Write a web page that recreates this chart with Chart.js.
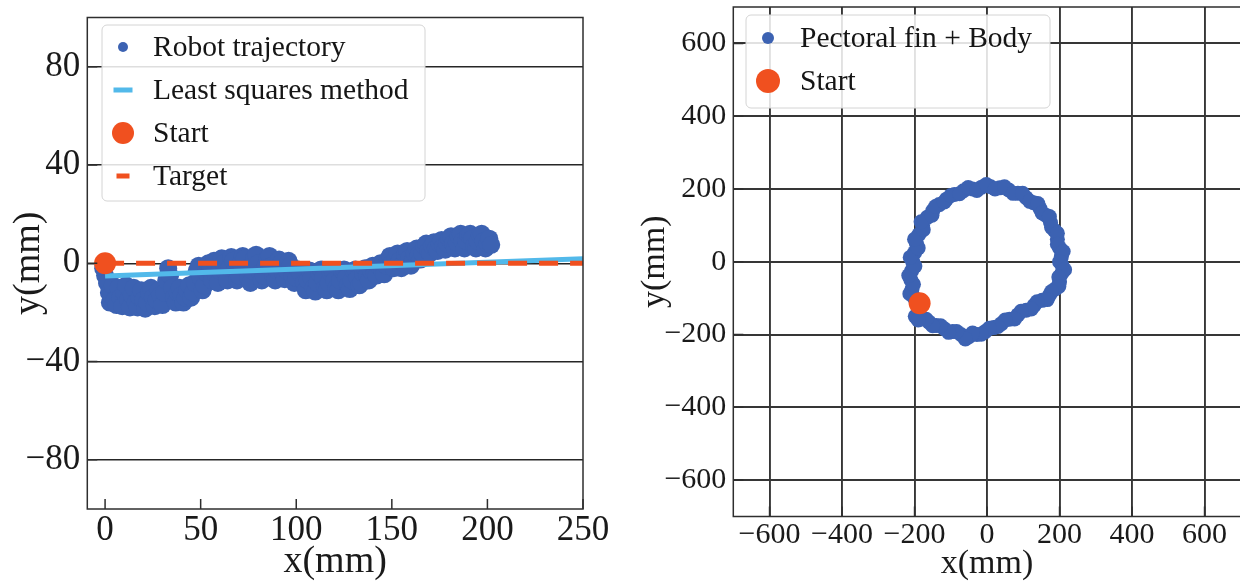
<!DOCTYPE html>
<html>
<head>
<meta charset="utf-8">
<script src="https://cdn.jsdelivr.net/npm/chart.js@4.4.0/dist/chart.umd.min.js"></script>
<style>
  html, body { margin: 0; padding: 0; background: #fff; overflow: hidden; }
  #leftBox { position: absolute; left: 0; top: 0; width: 620px; height: 581px; }
  #rightBox { position: absolute; left: 620px; top: 0; width: 624px; height: 581px; }
</style>
</head>
<body>
<div id="leftBox"><canvas id="trajChart" width="620" height="581"></canvas></div>
<div id="rightBox"><canvas id="loopChart" width="624" height="581"></canvas></div>
<script>
// ---- left panel data (mm) ----
const robotTrajectory = [
  [-1,-2],[0,-5],[1,-8],[2,-12],[2.5,-16],[3,-13],[4,-9],[5,-15],[6,-17],
  [7,-10],[8,-14],[9,-17.5],[10,-12],[11,-9],[12,-15],[13,-18],[14,-13],[15,-10],[16,-16],
  [17,-18],[18,-14],[19,-11],[20,-15],[21,-18.5],[22,-16],[23,-12],[24,-10],[25,-14],[26,-17.5],
  [27,-15],[28,-11],[29,-13],[30,-17],[31,-12],[32,-7],[33,-2],[34,-5],[35,-10],
  [36,-14],[37,-16],[38,-12],[39,-10],[40,-13],[41,-16],[42,-14],[43,-11],[44,-9],[45,-14],[46,-12],
  [47,-8],[48,-3],[49,-1],[50,-6],[51,-11],[52,-9],[53,-4],[54,0],[55,-3],[56,-7],
  [57,1],[58,-5],[59,-8],[60,-3],[61,2],[62,0],[63,-4],[64,-7],[65,-2],[66,2.5],[67,1],[68,-3],
  [69,-7],[70,-5],[71,0],[72,3],[73,2],[74,-2],[75,-6],[76,-8],[77,-3],[78,2],[79,3.5],[80,0],
  [81,-4],[82,-7],[83,-5],[84,-1],[85,2],[86,3],[87,-1],[88,-5],[89,-7],[90,-3],
  [91,1.5],[92,0],[93,-4],[94,-6.5],[95,-3],[96,1],[97,-1],[98,-5],[99,-8],[100,-6],
  [101,-2.5],[102,-4],[104,-8],[105,-11],[106,-7],[107,-3],[108,-6],[109,-10],[110,-11.5],[111,-8],
  [112,-4],[113,-2.5],[114,-6],[115,-10],[116,-11],[117,-8],[118,-4],[119,-3],[120,-7],[121,-10],
  [122,-11],[123,-7],[124,-3],[125,-2.5],[126,-6],[127,-9],[128,-10.5],[129,-7],[130,-3],[131,-2.5],
  [132,-6],[133,-9],[134,-8],[135,-4],[136,-2],[137,-5],[138,-7],[139,-3],[140,-1],
  [141,-4],[142,-5],[143,-1],[144,0],[145,-3],[146,-4.5],[147,-1],[148,1.5],[149,3],[150,0],
  [151,-2],[152,2],[153,4],[154,1],[155,-2],[156,0],[157,3.5],[158,5],[159,2],[160,-1],
  [161,1],[162,4],[163,6],[164,3.5],[165,1.5],[166,4],[167,7],[168,8],[169,5],[170,4],
  [171,7],[172,8.5],[173,6],[174,5],[175,8],[176,9.5],[177,7],[178,5.5],[179,8],[180,10],
  [181,11],[182,8],[183,6],[184,8.5],[185,11],[186,12],[187,9],[188,6],[189,9],[190,11.5],
  [191,12],[192,10],[193,7],[194,6],[195,9],[196,11.5],[197,12],[198,9],[199,6],[200,8],[201,10],[202,7.5]
];
const leastSquaresX = [0, 250];
const leastSquaresY = [-5.2, 1.8];
const targetX = [0, 250];
const targetY = [0, 0];
const startLeft = [0, 0];
const leftXTicks = [0, 50, 100, 150, 200, 250];
const leftYTicks = [-80, -40, 0, 40, 80];
const leftLabels = ['Robot trajectory', 'Least squares method', 'Start', 'Target'];

// ---- right panel data (mm) ----
const finBodyLoop = [
  [-200,-100],[-207,-75],[-210,-50],[-208,-25],[-205,0],[-200,25],[-195,50],[-188,75],[-178,100],
  [-165,122],[-150,140],[-132,157],[-112,172],[-90,185],[-65,195],[-40,200],[-15,205],[10,206],
  [35,203],[60,197],[85,188],[108,176],[128,162],[146,146],[162,128],[175,108],[186,86],[194,62],
  [200,38],[205,14],[207,-10],[206,-32],[200,-55],[188,-75],[172,-92],[152,-106],[130,-120],
  [108,-133],[85,-146],[62,-158],[40,-170],[18,-181],[-5,-192],[-28,-200],[-50,-206],[-72,-200],
  [-95,-192],[-118,-184],[-140,-175],[-160,-166],[-180,-157],[-198,-150],
  [-213,-88],[-203,-62],[-216,-38],[-199,-12],[-212,12],[-190,38],[-200,62],[-176,88],[-182,110],
  [-152,128],[-142,152],[-118,164],[-100,182],[-76,187],[-52,204],[-28,196],[-2,212],[22,200],
  [48,206],[72,188],[98,188],[118,166],[140,160],[152,134],[172,124],[178,94],[194,78],[194,48],
  [210,28],[200,0],[214,-22],[198,-42],[198,-68],[178,-82],[166,-104],[138,-110],[122,-130],
  [94,-136],[76,-157],[50,-160],[30,-178],[6,-183],[-16,-199],[-40,-196],[-60,-212],[-84,-192],
  [-106,-194],[-128,-176],[-150,-176],[-168,-158],[-190,-160]
];
const startRight = [-186, -114];
const rightTicks = [-600, -400, -200, 0, 200, 400, 600];
const rightLabels = ['Pectoral fin + Body', 'Start'];

const BLUE = '#3c62b2';
const ORANGE = '#f0501f';
const LIGHT_BLUE = '#52b9ea';
const SERIF = "'Liberation Serif', 'Times New Roman', serif";

const pairs = arr => arr.map(p => ({x: p[0], y: p[1]}));
const zipXY = (xs, ys) => xs.map((x, i) => ({x: x, y: ys[i]}));

// frame around the plot area + short inward ticks
const frameTicks = {
    id: 'frameTicks',
    afterDatasetsDraw(chart, args, opts) {
        const {ctx, chartArea: a, scales} = chart;
        ctx.save();
        ctx.strokeStyle = '#2e2e2e';
        ctx.lineWidth = 1.5;
        ctx.beginPath();
        scales.x.ticks.forEach(t => {
            const px = scales.x.getPixelForValue(t.value);
            ctx.moveTo(px, a.bottom);
            ctx.lineTo(px, a.bottom - opts.len);
        });
        scales.y.ticks.forEach(t => {
            const py = scales.y.getPixelForValue(t.value);
            ctx.moveTo(a.left, py);
            ctx.lineTo(a.left + opts.len, py);
        });
        ctx.stroke();
        ctx.strokeRect(a.left, a.top, a.right - a.left, a.bottom - a.top);
        ctx.restore();
    }
};

// matplotlib-like legend box inside the axes
const boxLegend = {
    id: 'boxLegend',
    afterDraw(chart, args, opts) {
        const ctx = chart.ctx;
        ctx.save();
        ctx.fillStyle = 'rgba(255,255,255,0.85)';
        ctx.strokeStyle = '#d4d4d4';
        ctx.lineWidth = 1;
        ctx.beginPath();
        ctx.roundRect(opts.x, opts.y, opts.w, opts.h, 5);
        ctx.fill();
        ctx.stroke();
        ctx.font = '29.5px ' + SERIF;
        ctx.textBaseline = 'middle';
        chart.data.datasets.forEach((ds, i) => {
            const cy = opts.firstRow + i * opts.rowGap;
            const m = ds.legendMarker;
            if (m.kind === 'dot') {
                ctx.fillStyle = ds.backgroundColor;
                ctx.beginPath();
                ctx.arc(opts.markerX, cy, m.r, 0, Math.PI * 2);
                ctx.fill();
            } else {
                ctx.fillStyle = ds.borderColor;
                ctx.fillRect(opts.markerX - m.w / 2, cy - m.h / 2, m.w, m.h);
            }
            ctx.fillStyle = '#151515';
            ctx.fillText(ds.label, opts.textX, cy + 1);
        });
        ctx.restore();
    }
};

// one linear axis; s = {ticks, min, max, title, grid, tickSize, titleSize, titlePad, fit, horizontal}
function axis(s) {
    const dark = s.grid === 'dark';
    return {
        type: 'linear',
        min: s.min,
        max: s.max,
        afterBuildTicks: sc => { sc.ticks = s.ticks.map(v => ({value: v})); },
        afterFit: sc => {
            if (s.horizontal) { sc.height = s.fit; } else { sc.width = s.fit; }
            sc.paddingTop = 0; sc.paddingBottom = 0; sc.paddingLeft = 0; sc.paddingRight = 0;
        },
        border: {display: false},
        grid: {display: !!s.grid, color: dark ? '#363636' : '#262626',
               lineWidth: dark ? 1.9 : 1.4, drawTicks: false},
        ticks: {
            font: {family: SERIF, size: s.tickSize, lineHeight: 1},
            color: '#1a1a1a',
            padding: s.horizontal ? 4 : 7,
            maxRotation: 0,
            autoSkip: false,
            callback: v => String(v).replace('-', '\u2212')
        },
        title: {
            display: true, text: s.title, color: '#1a1a1a',
            font: {family: SERIF, size: s.titleSize, lineHeight: 1},
            padding: s.horizontal ? {top: 0, bottom: s.titlePad} : {top: s.titlePad, bottom: 0}
        }
    };
}

document.addEventListener('DOMContentLoaded', function () {

    // Left: robot trajectory vs. fitted line and target
    new Chart(document.getElementById('trajChart'), {
        type: 'scatter',
        data: {
            datasets: [{
                label: leftLabels[0],
                data: pairs(robotTrajectory),
                backgroundColor: BLUE,
                borderWidth: 0,
                pointRadius: 9,
                order: 4,
                legendMarker: {kind: 'dot', r: 5}
            }, {
                label: leftLabels[1],
                data: zipXY(leastSquaresX, leastSquaresY),
                showLine: true,
                borderColor: LIGHT_BLUE,
                borderWidth: 5,
                pointRadius: 0,
                order: 3,
                legendMarker: {kind: 'line', w: 19, h: 5}
            }, {
                label: leftLabels[2],
                data: [{x: startLeft[0], y: startLeft[1]}],
                backgroundColor: ORANGE,
                borderWidth: 0,
                pointRadius: 11,
                order: 1,
                legendMarker: {kind: 'dot', r: 11}
            }, {
                label: leftLabels[3],
                data: zipXY(targetX, targetY),
                showLine: true,
                borderColor: ORANGE,
                borderWidth: 5,
                borderDash: [19, 12],
                borderCapStyle: 'butt',
                pointRadius: 0,
                order: 2,
                legendMarker: {kind: 'line', w: 13, h: 5}
            }]
        },
        options: {
            responsive: false,
            animation: false,
            devicePixelRatio: 1,
            events: [],
            layout: {autoPadding: false, padding: {left: 0, top: 17.5, right: 37, bottom: 0}},
            scales: {
                x: axis({ticks: leftXTicks, min: -9.3, max: 250, title: 'x(mm)', grid: false,
                         tickSize: 35, titleSize: 38, titlePad: 0, fit: 72, horizontal: true}),
                y: axis({ticks: leftYTicks, min: -100, max: 100, title: 'y(mm)', grid: 'light',
                         tickSize: 35, titleSize: 38, titlePad: 10, fit: 87.3, horizontal: false})
            },
            plugins: {
                legend: {display: false},
                tooltip: {enabled: false},
                frameTicks: {len: 10},
                boxLegend: {x: 102, y: 25, w: 323, h: 176, markerX: 123, textX: 153, firstRow: 47, rowGap: 43}
            }
        },
        plugins: [frameTicks, boxLegend]
    });

    // Right: closed loop with pectoral fin + body
    new Chart(document.getElementById('loopChart'), {
        type: 'scatter',
        data: {
            datasets: [{
                label: rightLabels[0],
                data: pairs(finBodyLoop),
                backgroundColor: BLUE,
                borderWidth: 0,
                pointRadius: 7.5,
                order: 2,
                legendMarker: {kind: 'dot', r: 6}
            }, {
                label: rightLabels[1],
                data: [{x: startRight[0], y: startRight[1]}],
                backgroundColor: ORANGE,
                borderWidth: 0,
                pointRadius: 11,
                order: 1,
                legendMarker: {kind: 'dot', r: 12}
            }]
        },
        options: {
            responsive: false,
            animation: false,
            devicePixelRatio: 1,
            events: [],
            layout: {autoPadding: false, padding: {left: 0, top: 7, right: 3.2, bottom: 0}},
            scales: {
                x: axis({ticks: rightTicks, min: -700, max: 700, title: 'x(mm)', grid: 'dark',
                         tickSize: 30, titleSize: 34, titlePad: 0, fit: 64.5, horizontal: true}),
                y: axis({ticks: rightTicks, min: -700, max: 700, title: 'y(mm)', grid: 'dark',
                         tickSize: 30, titleSize: 34, titlePad: 18, fit: 113.3, horizontal: false})
            },
            plugins: {
                legend: {display: false},
                tooltip: {enabled: false},
                frameTicks: {len: 10},
                boxLegend: {x: 126, y: 15, w: 304, h: 93, markerX: 148, textX: 180, firstRow: 38, rowGap: 43}
            }
        },
        plugins: [frameTicks, boxLegend]
    });
});
</script>
</body>
</html>
